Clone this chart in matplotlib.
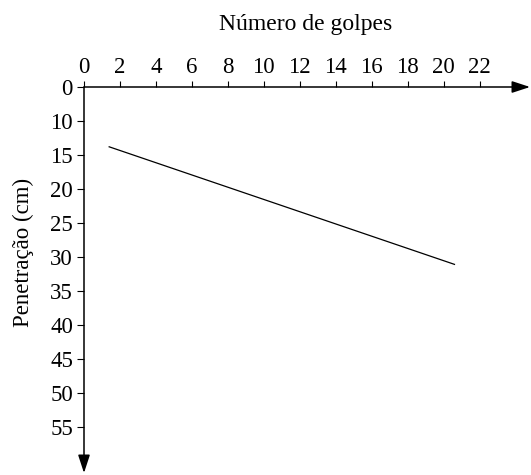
import matplotlib.pyplot as plt

# dados
golpes = [1.4, 20.6]
penetracao = [13.8, 31.1]

x_ticks = [0, 2, 4, 6, 8, 10, 12, 14, 16, 18, 20, 22]
y_ticks = [10, 15, 20, 25, 30, 35, 40, 45, 50, 55]
# o eixo tem um corte: a origem "0" fica onde estaria o 5
y_origem = 5

plt.rcParams['font.family'] = ['Liberation Serif', 'DejaVu Serif']
plt.rcParams['font.size'] = 16.5

fig = plt.figure(figsize=(5.31, 4.75), dpi=100)
ax = fig.add_axes([84 / 531, 2 / 475, 446 / 531, 386 / 475])

ax.plot(golpes, penetracao, color='black', lw=0.9)

x_max = 24.8
y_max = 61.8
ax.set_xlim(0, x_max)
ax.set_ylim(y_max, y_origem)

for s in ax.spines.values():
    s.set_visible(False)

# eixos com setas
arrow = dict(arrowstyle='-|>,head_length=1.1,head_width=0.36', color='black',
             lw=1.1, mutation_scale=10, shrinkA=0, shrinkB=0)
ax.annotate('', xy=(x_max, y_origem), xytext=(0, y_origem), arrowprops=arrow,
            annotation_clip=False)
ax.annotate('', xy=(0, y_max), xytext=(0, y_origem), arrowprops=arrow,
            annotation_clip=False)

ax.xaxis.tick_top()
ax.set_xticks(x_ticks)
ax.set_xticklabels([str(v) for v in x_ticks])
ax.set_yticks([y_origem] + y_ticks)
ax.set_yticklabels(['0'] + [str(v) for v in y_ticks])
ax.tick_params(axis='x', direction='out', length=4.5, width=0.8, pad=2)
ax.tick_params(axis='y', direction='out', length=5, width=0.8, pad=3)

fig.text(306 / 531, 1 - 30 / 475, 'Número de golpes', ha='center',
         va='baseline', fontsize=17)
fig.text(23 / 531, 1 - 252 / 475, 'Penetração (cm)', ha='center', va='center',
         rotation=90)

fig.savefig('out.png', dpi=100)
